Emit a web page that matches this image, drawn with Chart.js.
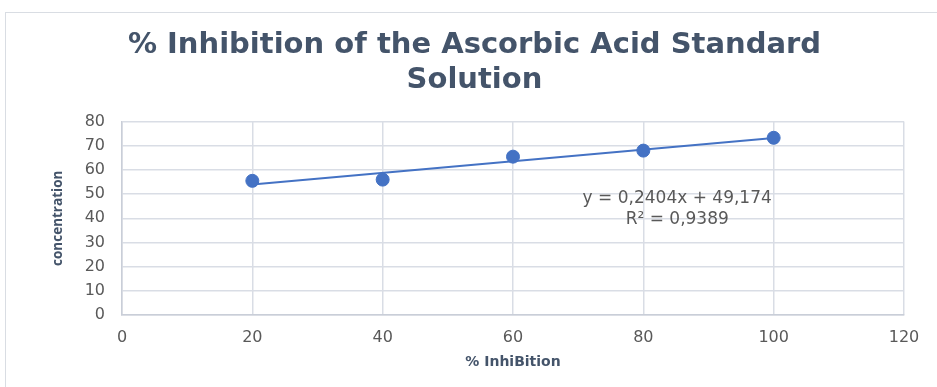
<!DOCTYPE html>
<html>
<head>
<meta charset="utf-8">
<script src="https://cdn.jsdelivr.net/npm/chart.js@4/dist/chart.umd.min.js"></script>
<style>
  html, body { margin: 0; padding: 0; background: #fff; }
  .box { position: absolute; left: 5px; top: 12px; width: 940px; height: 380px; border: 1px solid #d9dde3; box-sizing: border-box; }
  .wrap { position: absolute; left: 0; top: 0; width: 937px; height: 387px; }
</style>
</head>
<body>
<div class="box"></div>
<div class="wrap"><canvas id="chart" width="937" height="387"></canvas></div>
<script>
// % inhibition vs concentration
const inhibition = [20, 40, 60, 80, 100];
const concentration = [55.5, 56, 65.5, 68, 73.3];
const xTicks = [0, 20, 40, 60, 80, 100, 120];
const yTicks = [0, 10, 20, 30, 40, 50, 60, 70, 80];

// linear trendline from the equation shown
const slope = 0.2404;
const intercept = 49.174;
const trendText = ['y = 0,2404x + 49,174', 'R² = 0,9389'];

const trendData = [inhibition[0], inhibition[inhibition.length - 1]].map(x => ({ x: x, y: slope * x + intercept }));
const points = inhibition.map((x, i) => ({ x: x, y: concentration[i] }));

const gray = '#595959';
const blue = '#4472c4';
const titleColor = '#44546a';

const trendLabel = {
    id: 'trendLabel',
    afterDatasetsDraw(chart) {
        const ctx = chart.ctx;
        const xs = chart.scales.x, ys = chart.scales.y;
        ctx.save();
        ctx.font = '17px "DejaVu Sans"';
        ctx.fillStyle = gray;
        ctx.textAlign = 'center';
        ctx.textBaseline = 'middle';
        ctx.fillText(trendText[0], xs.getPixelForValue(85.2), ys.getPixelForValue(48.2));
        ctx.fillText(trendText[1], xs.getPixelForValue(85.2), ys.getPixelForValue(39.4));
        ctx.restore();
    }
};

new Chart(document.getElementById('chart'), {
    type: 'scatter',
    data: {
        datasets: [{
            label: 'trend',
            data: trendData,
            showLine: true,
            borderColor: blue,
            borderWidth: 2,
            pointRadius: 0,
            order: 1
        }, {
            label: 'concentration',
            data: points,
            backgroundColor: blue,
            borderColor: blue,
            pointRadius: 6.5,
            order: 0
        }]
    },
    options: {
        responsive: false,
        animation: false,
        layout: { padding: { left: 45, right: 33, top: 28, bottom: 0 } },
        plugins: {
            legend: { display: false },
            tooltip: { enabled: false },
            title: {
                display: true,
                text: ['% Inhibition of the Ascorbic Acid Standard', 'Solution'],
                color: titleColor,
                font: { family: 'DejaVu Sans', size: 29, weight: 'bold', lineHeight: 1.2 },
                padding: { top: 0, bottom: 24 }
            }
        },
        scales: {
            x: {
                type: 'linear',
                min: 0,
                max: 120,
                afterBuildTicks: axis => { axis.ticks = xTicks.map(v => ({ value: v })); },
                afterFit: axis => { axis.height = 72; },
                grid: { color: '#d9dde5', lineWidth: 1.5, drawTicks: false },
                border: { color: '#c9ced8', width: 1.5 },
                ticks: { color: gray, font: { family: 'DejaVu Sans', size: 16 }, padding: 13 },
                title: { display: true, text: '% InhiBition', color: titleColor, font: { family: 'DejaVu Sans', size: 14, weight: 'bold' }, padding: { top: 4, bottom: 16 } }
            },
            y: {
                min: 0,
                max: 80,
                afterBuildTicks: axis => { axis.ticks = yTicks.map(v => ({ value: v })); },
                afterFit: axis => { axis.width = 77; },
                grid: { color: '#d9dde5', lineWidth: 1.5, drawTicks: false },
                border: { color: '#c9ced8', width: 1.5 },
                ticks: { color: gray, font: { family: 'DejaVu Sans', size: 16 }, padding: 17 },
                title: { display: true, text: 'concentration', color: titleColor, font: { family: 'Open Sans', size: 13.5, weight: 'bold' }, padding: { top: 5, bottom: 4 } }
            }
        }
    },
    plugins: [trendLabel]
});
</script>
</body>
</html>
